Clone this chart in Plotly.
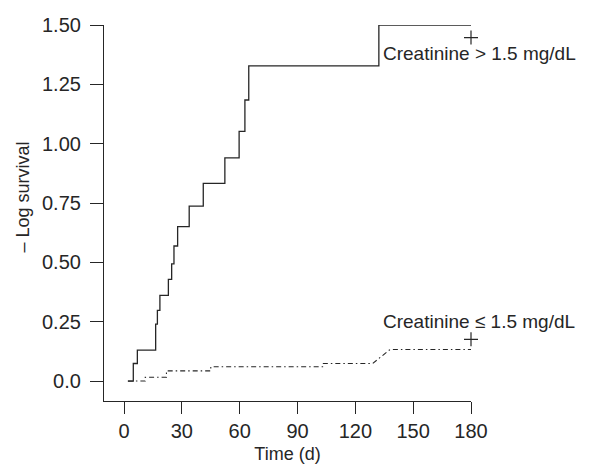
import plotly.graph_objects as go

# Creatinine > 1.5 mg/dL (step function, value changes at each time)
high_time = [2, 4.8, 6.9, 16.4, 17.3, 18.6, 23, 24.7, 25.9, 27.8, 33.8, 41.1, 52.3, 59.7, 62.7, 64.7, 132.2, 180]
high_val = [0, 0.074, 0.13, 0.24, 0.298, 0.361, 0.428, 0.494, 0.569, 0.651, 0.737, 0.833, 0.94, 1.052, 1.184, 1.328, 1.5, 1.5]

# Creatinine <= 1.5 mg/dL (drawn point to point)
low_time = [2, 11, 11, 22, 22, 45, 45, 103, 103, 129, 138, 180]
low_val = [0, 0, 0.016, 0.016, 0.043, 0.043, 0.060, 0.060, 0.074, 0.074, 0.133, 0.133]

# censor marks
cens_time = [180, 180]
cens_val = [1.447, 0.176]

x_ticks = [0, 30, 60, 90, 120, 150, 180]
y_ticks = [0.0, 0.25, 0.5, 0.75, 1.0, 1.25, 1.5]
y_ticktext = ["0.0", "0.25", "0.50", "0.75", "1.00", "1.25", "1.50"]

labels = ["Creatinine > 1.5 mg/dL", "Creatinine \u2264 1.5 mg/dL"]
label_x = [133.2, 133.2]
label_y = [1.38, 0.249]

FONT = "Liberation Sans, Arial, Helvetica, sans-serif"
INK = "#262626"

fig = go.Figure()
fig.add_trace(go.Scatter(x=high_time, y=high_val, mode="lines", line_shape="hv",
                         line=dict(color=INK, width=1.3), showlegend=False, cliponaxis=False))
fig.add_trace(go.Scatter(x=low_time, y=low_val, mode="lines",
                         line=dict(color=INK, width=1.1, dash="5px,3px,1.5px,3px"),
                         showlegend=False, cliponaxis=False))
fig.add_trace(go.Scatter(x=cens_time, y=cens_val, mode="markers",
                         marker=dict(symbol="cross-thin", size=10, line=dict(color=INK, width=1.2)),
                         showlegend=False, cliponaxis=False))

for t, lx, ly in zip(labels, label_x, label_y):
    fig.add_annotation(x=lx, y=ly, text=t, showarrow=False, xanchor="left", yanchor="middle",
                       font=dict(family=FONT, size=19, color=INK))

fig.add_annotation(xref="paper", yref="paper", x=-0.222, y=0.5426, text="\u2013 Log survival",
                   textangle=-90, showarrow=False, xanchor="center", yanchor="middle",
                   font=dict(family=FONT, size=18, color=INK))

fig.update_xaxes(range=[-10.4, 180], tickvals=x_ticks, showline=True, linecolor=INK, linewidth=1.2,
                 ticks="outside", ticklen=12, tickcolor=INK, tickwidth=1.2, showgrid=False, zeroline=False,
                 automargin=False, tickfont=dict(family=FONT, size=20, color=INK),
                 title=dict(text="Time (d)", font=dict(family=FONT, size=18, color=INK), standoff=9))
fig.update_yaxes(range=[-0.084, 1.5], tickvals=y_ticks, ticktext=y_ticktext, showline=True, linecolor=INK,
                 linewidth=1.2, ticks="outside", ticklen=13, tickcolor=INK, tickwidth=1.2, showgrid=False,
                 zeroline=False, automargin=False, ticklabelstandoff=5,
                 tickfont=dict(family=FONT, size=20, color=INK))

# page body has an 8px default margin; size the figure to fit inside the 600x472 window
fig.update_layout(width=584, height=456, margin=dict(l=96, r=120.5, t=17, b=63),
                  plot_bgcolor="white", paper_bgcolor="white")

fig.write_html("out.html")
